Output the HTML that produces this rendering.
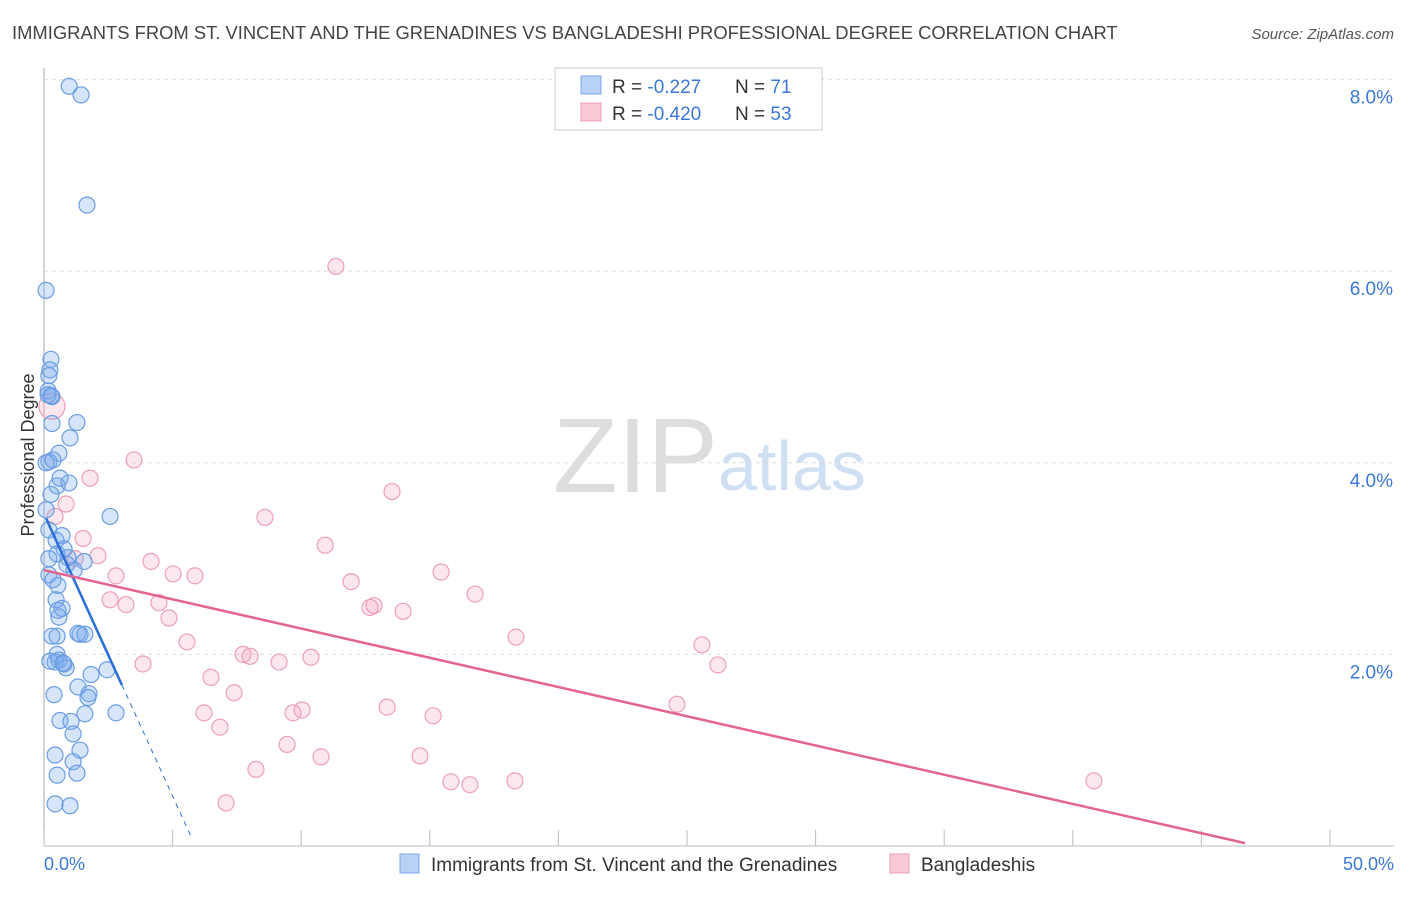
<!DOCTYPE html>
<html><head><meta charset="utf-8"><style>
body{margin:0;background:#fff;font-family:"Liberation Sans",sans-serif}
svg text{font-family:"Liberation Sans",sans-serif}
</style></head><body>
<svg id="c" width="1406" height="892">
<text x="12" y="39" font-size="18.4" fill="#444">IMMIGRANTS FROM ST. VINCENT AND THE GRENADINES VS BANGLADESHI PROFESSIONAL DEGREE CORRELATION CHART</text>
<text x="1394" y="39" font-size="15" fill="#555" font-style="italic" text-anchor="end">Source: ZipAtlas.com</text>
<text x="553" y="492" font-size="106" fill="#ddd" font-family="Liberation Serif">ZIP</text>
<text x="718" y="490" font-size="70" fill="#cfdff4">atlas</text>
<text transform="translate(34,455) rotate(-90)" font-size="18" fill="#333" text-anchor="middle">Professional Degree</text>
<g id="grid"></g><g id="pts"></g><g id="lines"></g>
<g>
<rect x="555" y="68" width="267" height="62" fill="#fff" stroke="#ccc"/>
<rect x="581" y="76" width="20" height="18" fill="#b7d2f5" stroke="#7aa6e6"/>
<rect x="581" y="103" width="20" height="18" fill="#f9c9d6" stroke="#ee9fb5"/>
<text x="612" y="93" font-size="19" fill="#333">R = <tspan fill="#3b78d8">-0.227</tspan><tspan x="735">N = </tspan><tspan fill="#3b78d8">71</tspan></text>
<text x="612" y="120" font-size="19" fill="#333">R = <tspan fill="#3b78d8">-0.420</tspan><tspan x="735">N = </tspan><tspan fill="#3b78d8">53</tspan></text>
</g>
<g>
<rect x="400" y="854" width="19" height="19" fill="#b7d2f5" stroke="#7aa6e6"/>
<text x="431" y="871" font-size="19" fill="#333">Immigrants from St. Vincent and the Grenadines</text>
<rect x="890" y="854" width="19" height="19" fill="#f9c9d6" stroke="#ee9fb5"/>
<text x="921" y="871" font-size="19" fill="#333">Bangladeshis</text>
</g>
</svg>
<script>
const xTicks=[0,5,10,15,20,25,30,35,40,45,50];
const yTicks=[2,4,6,8];
const blueX=[0.98,1.44,1.67,0.08,0.27,0.23,0.19,0.16,0.31,1.28,0.31,1.01,0.58,0.19,0.08,0.62,0.51,0.97,0.27,2.57,0.08,0.19,0.70,0.47,0.78,0.51,0.93,1.56,1.17,0.19,0.35,0.54,0.47,0.70,0.58,0.31,0.51,1.40,1.32,0.51,0.58,0.43,0.23,0.78,0.86,2.45,1.83,0.39,1.32,1.75,1.71,2.80,1.59,0.62,1.05,1.13,0.43,1.40,1.13,0.51,1.28,0.43,1.01,0.27,0.16,0.74,1.59,0.35,0.19,0.89,0.54];
const blueY=[7.93,7.84,6.69,5.80,5.08,4.97,4.91,4.75,4.69,4.42,4.41,4.26,4.10,4.01,4.00,3.84,3.76,3.79,3.67,3.44,3.51,3.30,3.24,3.19,3.10,3.05,3.01,2.97,2.88,2.83,2.78,2.72,2.57,2.48,2.39,2.19,2.19,2.21,2.22,2.00,1.94,1.92,1.93,1.90,1.86,1.84,1.79,1.58,1.66,1.59,1.55,1.39,1.38,1.31,1.30,1.17,0.95,1.00,0.88,0.74,0.76,0.44,0.42,4.70,4.71,1.91,2.21,4.03,3.00,2.94,2.46];
const pinkX=[0.31,11.35,3.50,1.79,13.53,0.86,8.59,0.43,1.52,10.93,2.10,4.16,1.21,11.94,2.80,5.02,5.87,15.44,16.76,2.57,3.19,4.47,12.68,12.83,13.96,4.86,18.35,5.56,25.58,7.74,8.01,9.14,10.38,26.20,3.85,6.49,7.39,24.61,13.34,10.03,9.68,15.13,6.22,6.84,9.45,10.77,14.62,8.24,15.82,16.56,18.31,40.82,7.08];
const pinkY=[4.59,6.05,4.03,3.84,3.70,3.57,3.43,3.44,3.21,3.14,3.03,2.97,3.00,2.76,2.82,2.84,2.82,2.86,2.63,2.57,2.52,2.54,2.49,2.51,2.45,2.38,2.18,2.13,2.10,2.00,1.98,1.92,1.97,1.89,1.90,1.76,1.60,1.48,1.45,1.42,1.39,1.36,1.39,1.24,1.06,0.93,0.94,0.80,0.67,0.64,0.68,0.68,0.45];
const blueFit=[[0.08,3.42],[3.03,1.68]];
const blueDash=[[3.03,1.68],[5.75,0.08]];
const pinkFit=[[0,2.88],[46.7,0.03]];
const X=v=>44+v*25.72, Y=v=>846-v*95.8;
const NS='http://www.w3.org/2000/svg';
function mk(p,t,a){const e=document.createElementNS(NS,t);for(const k in a)e.setAttribute(k,a[k]);p.appendChild(e);return e;}
const g=document.getElementById('grid');
let ax=mk(g,'line',{x1:44,y1:68,x2:44,y2:846,stroke:'#aaa'});


let bx=mk(g,'line',{x1:44,y1:846,x2:1394,y2:846,stroke:'#bbb'});


xTicks.forEach(t=>{const l=mk(g,'line',{x1:X(t),y1:830,x2:X(t),y2:846,stroke:'#bbb'});

});
[[0,'0.0%',44,'start'],[50,'50.0%',1394,'end']].forEach(d=>{const t=mk(g,'text',{x:d[2],y:870,'font-size':18,fill:'#3b78d8','text-anchor':d[3]});t.textContent=d[1];

});
yTicks.forEach(v=>{const l=mk(g,'line',{x1:44,y1:Y(v),x2:1394,y2:Y(v),stroke:'#ddd','stroke-dasharray':'4,4'});


const t=mk(g,'text',{x:1393,y:Y(v)+24,'font-size':19,fill:'#3b78d8','text-anchor':'end'});t.textContent=v.toFixed(1)+'%';

});
const P=document.getElementById('pts');
pinkX.forEach((x,i)=>{const c=mk(P,'circle',{cx:X(x),cy:Y(pinkY[i]),r:i==0?13:8,fill:'rgba(246,160,186,0.25)',stroke:'#ee9fb5','stroke-width':1.2});

});
blueX.forEach((x,i)=>{const c=mk(P,'circle',{cx:X(x),cy:Y(blueY[i]),r:8,fill:'rgba(120,170,235,0.3)',stroke:'#6a9de3','stroke-width':1.2});

});
const L=document.getElementById('lines');
function ln(d,col,w,dash,name){const l=mk(L,'line',{x1:X(d[0][0]),y1:Y(d[0][1]),x2:X(d[1][0]),y2:Y(d[1][1]),stroke:col,'stroke-width':w});if(dash)l.setAttribute('stroke-dasharray',dash);

}
ln(blueFit,'#2a6fd6',2.5,null,'trend-line-immigrants');
ln(blueDash,'#2a6fd6',1,'5,5','trend-line-immigrants-extension');
ln(pinkFit,'#e36592',2.5,null,'trend-line-bangladeshis');
</script>
</body></html>
